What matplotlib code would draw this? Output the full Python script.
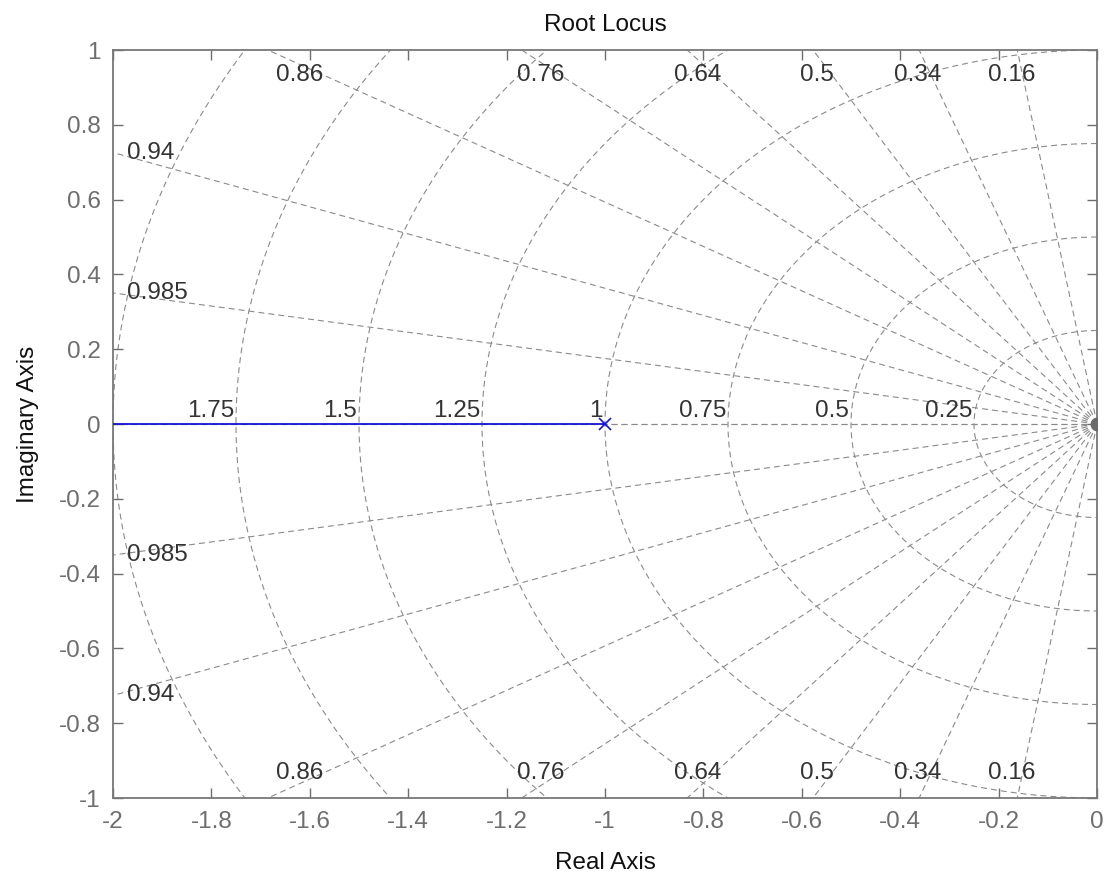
import numpy as np
import matplotlib
matplotlib.use('Agg')
import matplotlib.pyplot as plt

plt.rcParams['font.family'] = ['Liberation Sans', 'DejaVu Sans']

# root locus branch (pole at -1, going left)
locus_re = [-2.0, -1.0]
locus_im = [0.0, 0.0]
pole_re = [-1.0]
pole_im = [0.0]

# grid values
zetas = [0.16, 0.34, 0.5, 0.64, 0.76, 0.86, 0.94, 0.985]
wns = [0.25, 0.5, 0.75, 1.0, 1.25, 1.5, 1.75, 2.0]
wn_labels = ['0.25', '0.5', '0.75', '1', '1.25', '1.5', '1.75']

xticks = [-2, -1.8, -1.6, -1.4, -1.2, -1, -0.8, -0.6, -0.4, -0.2, 0]
xticklabels = ['-2', '-1.8', '-1.6', '-1.4', '-1.2', '-1', '-0.8', '-0.6', '-0.4', '-0.2', '0']
yticks = [-1, -0.8, -0.6, -0.4, -0.2, 0, 0.2, 0.4, 0.6, 0.8, 1]
yticklabels = ['-1', '-0.8', '-0.6', '-0.4', '-0.2', '0', '0.2', '0.4', '0.6', '0.8', '1']

gridc = '#8a8a8a'
dash = (0, (5.4, 3.6))
fs = 17.5

fig = plt.figure(figsize=(11.1, 8.8), dpi=100)
ax = fig.add_axes([113 / 1110, 1 - 798 / 880, (1097 - 113) / 1110, (798 - 50) / 880])

# damping lines
for z in zetas + [0.0, 1.0]:
  th = np.arccos(z)
  for s in (1, -1):
    ax.plot([0, -10 * np.cos(th)], [0, s * 10 * np.sin(th)], color=gridc, lw=0.8, ls=dash, zorder=1)

# natural frequency circles (left half plane)
t = np.linspace(np.pi / 2, 3 * np.pi / 2, 400)
for w in wns:
  ax.plot(w * np.cos(t), w * np.sin(t), color=gridc, lw=0.8, ls=dash, zorder=1)

# damping labels
for z in zetas:
  tn = np.sqrt(1 - z ** 2) / z
  lab = ('%g' % z)
  if 2 * tn > 1:
    for s in (1, -1):
      ax.text(-0.95 / tn - 0.02, s * 0.934, lab, ha='center', va='center', fontsize=fs, color='#333333', zorder=3)
  else:
    for s in (1, -1):
      ax.text(-1.972, s * 2 * tn, lab, ha='left', va='center', fontsize=fs, color='#333333', zorder=3)

# frequency labels
for w, lab in zip(wns, wn_labels):
  ax.text(-w - 0.004, 0.006, lab, ha='right', va='bottom', fontsize=fs, color='#333333', zorder=3)

ax.plot(locus_re, locus_im, color='#1515d8', lw=1.3, zorder=4)
ax.plot(pole_re, pole_im, 'x', color='#1515d8', ms=9, mew=1.2, zorder=5)
ax.plot([0], [0], 'o', color='#6a6a6a', ms=9, zorder=5)

ax.set_xlim(-2, 0)
ax.set_ylim(-1, 1)
ax.set_xticks(xticks)
ax.set_xticklabels(xticklabels)
ax.set_yticks(yticks)
ax.set_yticklabels(yticklabels)
ax.tick_params(direction='in', length=7.5, width=1, colors='#6e6e6e', labelsize=fs,
               top=True, right=True, pad=9)
for sp in ax.spines.values():
  sp.set_color('#777777')
  sp.set_linewidth(1.3)

ax.set_title('Root Locus', fontsize=fs, color='#111111', pad=14)
ax.set_xlabel('Real Axis', fontsize=fs, color='#111111', labelpad=14)
ax.set_ylabel('Imaginary Axis', fontsize=fs, color='#111111', labelpad=14)

plt.savefig('out.png', dpi=100)
plt.close()
